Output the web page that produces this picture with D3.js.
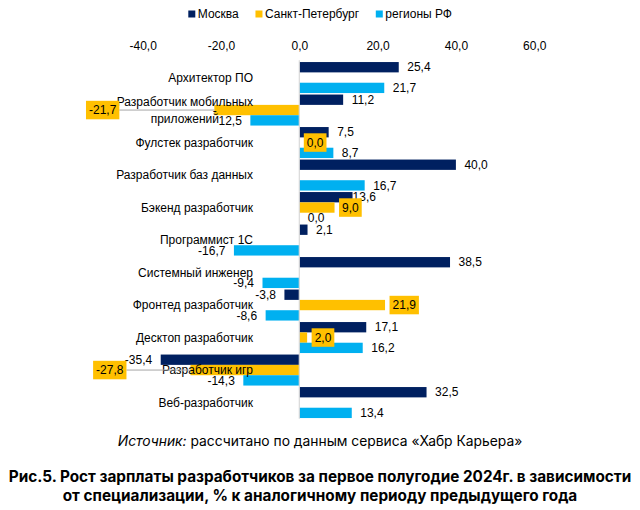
<!DOCTYPE html>
<html><head><meta charset="utf-8">
<script src="https://cdn.jsdelivr.net/npm/d3@7"></script>
<style>body{margin:0;background:#fff}svg{display:block;font-family:Arial,"Liberation Sans",sans-serif}</style>
</head><body><svg id="c" width="640" height="510"></svg>
<script>
const categories = ["Архитектор ПО","Разработчик мобильных приложений","Фулстек разработчик","Разработчик баз данных","Бэкенд разработчик","Программист 1С","Системный инженер","Фронтед разработчик","Десктоп разработчик","Разработчик игр","Веб-разработчик"];
const seriesNames = ["Москва","Санкт-Петербург","регионы РФ"];
const moscow = [25.4,11.2,7.5,40.0,13.6,2.1,38.5,-3.8,17.1,-35.4,32.5];
const spb = [null,-21.7,0.0,null,9.0,null,null,21.9,2.0,-27.8,null];
const regions = [21.7,-12.5,8.7,16.7,0.0,-16.7,-9.4,-8.6,16.2,-14.3,13.4];
const tickValues = [-40,-20,0,20,40,60];
const colors = ["#002060","#FFC000","#00B0F0"];

const svg = d3.select("#c");
const x = d3.scaleLinear().domain([-40,60]).range([142.7,534.2]);
const y = d3.scaleBand().domain(categories).range([61.3,418.8]).paddingInner(0.046).paddingOuter(0.023);
const ys = d3.scaleBand().domain(seriesNames).range([0,y.bandwidth()]);
const fmt = v => d3.format(".1f")(v).replace(".",",").replace("−","-");
const series = [moscow,spb,regions];

// top axis
const ax = svg.append("g").attr("transform","translate(0,46)")
  .call(d3.axisTop(x).tickValues(tickValues).tickFormat(fmt).tickSize(0).tickPadding(0));
ax.select(".domain").remove();
ax.selectAll("text").attr("font-size",12).attr("fill","#000").attr("dy","0.35em").attr("font-family","Arial, 'Liberation Sans', sans-serif");

// legend
const lg = svg.append("g");
let lx = 188.3;
seriesNames.forEach((n,i)=>{
  lg.append("rect").attr("x",lx).attr("y",10.5).attr("width",7).attr("height",7).attr("fill",colors[i]);
  const t = lg.append("text").attr("x",lx+9.5).attr("y",14).attr("dy","0.35em").attr("font-size",12).attr("fill","#000").text(n);
  lx += 9.5 + t.node().getComputedTextLength() + 16.7;
});

// bars
const bars = svg.append("g");
series.forEach((arr,si)=>{
  categories.forEach((c,ci)=>{
    const v = arr[ci];
    if (v===null) return;
    bars.append("rect")
      .attr("x",Math.min(x(0),x(v))).attr("width",Math.abs(x(v)-x(0)))
      .attr("y",y(c)+ys(seriesNames[si])).attr("height",ys.bandwidth())
      .attr("fill",colors[si]);
  });
});

// zero line
svg.append("line").attr("x1",x(0)).attr("x2",x(0)).attr("y1",y.range()[0]-1).attr("y2",y.range()[1])
  .attr("stroke","#D9D9D9").attr("stroke-width",1.2);

// category labels (multi-line blocks: lines centred within the block, block right-aligned)
const cl = svg.append("g");
const labelRight = 253;
categories.forEach(c=>{
  const cy = y(c)+y.bandwidth()/2;
  if (c==="Разработчик мобильных приложений"){
    const lines = ["Разработчик мобильных","приложений"];
    const t1 = cl.append("text").attr("font-size",12).attr("fill","#000").attr("text-anchor","end")
      .attr("x",labelRight).attr("y",cy-8.3).attr("dy","0.35em").text(lines[0]);
    const w = t1.node().getComputedTextLength();
    cl.append("text").attr("font-size",12).attr("fill","#000").attr("text-anchor","middle")
      .attr("x",labelRight-w/2).attr("y",cy+8.3).attr("dy","0.35em").text(lines[1]);
  } else {
    cl.append("text").attr("text-anchor","end").attr("font-size",12).attr("fill","#000")
      .attr("x",labelRight).attr("y",cy).attr("dy","0.35em").text(c);
  }
});

// data labels
const dl = svg.append("g");
const nudgeLabel = {"Бэкенд разработчик|0": -8.5};
const leader = {"Разработчик мобильных приложений": -95, "Разработчик игр": -64};
series.forEach((arr,si)=>{
  categories.forEach((c,ci)=>{
    const v = arr[ci];
    if (v===null) return;
    const cy = y(c)+ys(seriesNames[si])+ys.bandwidth()/2;
    const xe = x(v);
    if (si===1){
      const txt = fmt(v);
      const t = dl.append("text").attr("font-size",12).attr("fill","#000").attr("dy","0.35em").attr("y",cy).text(txt);
      const w = t.node().getComputedTextLength();
      const bw = w+6, bh = 18.5;
      let bx;
      if (v>=0) bx = xe+4.5;
      else {
        const right = xe + leader[c];
        bx = right - bw;
        dl.insert("line","text").attr("x1",right).attr("x2",xe).attr("y1",cy).attr("y2",cy)
          .attr("stroke","#A6A6A6").attr("stroke-width",1);
      }
      dl.insert("rect","text:last-child").attr("x",bx).attr("y",cy-bh/2).attr("width",bw).attr("height",bh).attr("fill",colors[1]);
      t.attr("x",bx+3);
    } else {
      const off = 8.5 + (nudgeLabel[c+"|"+si]||0);
      if (si===2 && c==="Разработчик мобильных приложений"){
        const t = dl.append("text").attr("font-size",12).attr("fill","#000").attr("text-anchor","end");
        t.append("tspan").attr("x",xe-off-25).attr("y",cy-10).attr("dy","0.35em").text("-");
        t.append("tspan").attr("x",xe-off).attr("y",cy).attr("dy","0.35em").text(fmt(Math.abs(v)));
        return;
      }
      dl.append("text").attr("font-size",12).attr("fill","#000").attr("dy","0.35em").attr("y",cy)
        .attr("x", v>=0 ? xe+off : xe-off).attr("text-anchor", v>=0 ? "start":"end").text(fmt(v));
    }
  });
});

// fit helper: choose font size so the text spans the target width
function fit(sel, target){
  const fs = +sel.attr("font-size");
  const w = sel.node().getComputedTextLength();
  sel.attr("font-size", fs*target/w);
}

// source
const src = svg.append("text").attr("x",320).attr("y",441).attr("dy","0.35em").attr("text-anchor","middle")
  .attr("font-size",13).attr("fill","#000").attr("font-family","Inter, 'Noto Sans', sans-serif");
src.append("tspan").attr("font-style","italic").text("Источник:");
src.append("tspan").text(" рассчитано по данным сервиса «Хабр Карьера»");
fit(src, 405);

// title
const tt = svg.append("text").attr("text-anchor","middle").attr("font-size",14).attr("font-weight","bold")
  .attr("fill","#000").attr("font-family","Inter, 'Noto Sans', sans-serif");
tt.append("tspan").attr("x",320).attr("y",477).attr("dy","0.35em").text("Рис.5. Рост зарплаты разработчиков за первое полугодие 2024г. в зависимости");
const l1 = tt.select("tspan").node().getComputedTextLength();
tt.append("tspan").attr("x",320).attr("y",496).attr("dy","0.35em").text("от специализации, % к аналогичному периоду предыдущего года");
tt.attr("font-size", 14*623/l1);
</script></body></html>
